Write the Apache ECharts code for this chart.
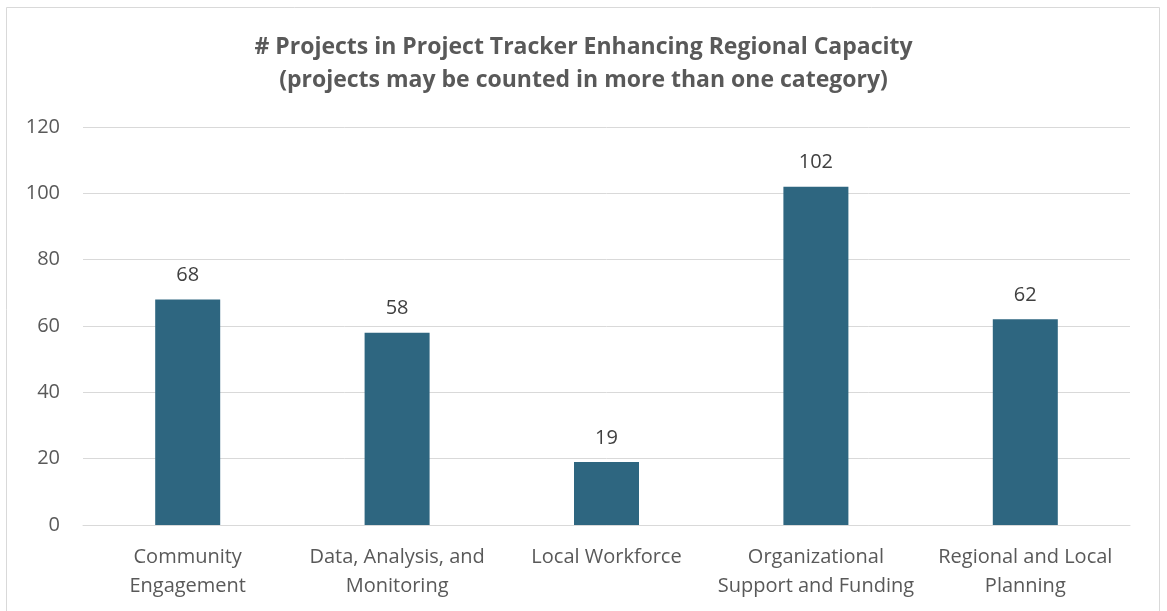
<!DOCTYPE html>
<html>
<head>
<meta charset="utf-8">
<script src="https://cdn.jsdelivr.net/npm/echarts@6/dist/echarts.min.js"></script>
<style>
    html, body { margin: 0; padding: 0; background: #fff; }
    #chart { width: 1167px; height: 611px; }
</style>
</head>
<body>
<div id="chart"></div>
<script>
    // categories and values
    var categories = ['Community\nEngagement', 'Data, Analysis, and\nMonitoring', 'Local Workforce',
        'Organizational\nSupport and Funding', 'Regional and Local\nPlanning'];
    var projectCounts = [68, 58, 19, 102, 62];
    var yTicks = [0, 20, 40, 60, 80, 100, 120];

    var chart = echarts.init(document.getElementById('chart'));
    var fontFamily = '"Open Sans", "Noto Sans", sans-serif';

    var option = {
        animation: false,
        backgroundColor: '#fff',
        graphic: [{
            type: 'rect',
            shape: { x: 6.5, y: 7.5, width: 1153, height: 620 },
            style: { fill: 'none', stroke: '#d9d9d9', lineWidth: 1 }
        }],
        title: {
            text: '# Projects in Project Tracker Enhancing Regional Capacity\n(projects may be counted in more than one category)',
            left: 'center',
            top: 26,
            textStyle: {
                fontFamily: fontFamily,
                fontSize: 23,
                fontWeight: 'bold',
                color: '#595959',
                lineHeight: 33
            }
        },
        grid: {
            left: 83,
            right: 37,
            top: 127,
            bottom: 86,
            containLabel: false
        },
        xAxis: {
            type: 'category',
            data: categories,
            axisLine: { lineStyle: { color: '#d9d9d9', width: 1 } },
            axisTick: { show: false },
            axisLabel: {
                interval: 0,
                margin: 18,
                fontFamily: fontFamily,
                fontSize: 20,
                color: '#595959',
                lineHeight: 29
            }
        },
        yAxis: {
            type: 'value',
            min: yTicks[0],
            max: yTicks[yTicks.length - 1],
            interval: 20,
            axisLine: { show: false },
            axisTick: { show: false },
            splitLine: { lineStyle: { color: '#d9d9d9', width: 1 } },
            axisLabel: {
                margin: 23,
                fontFamily: fontFamily,
                fontSize: 20,
                color: '#595959'
            }
        },
        series: [{
            type: 'bar',
            data: projectCounts,
            barWidth: 65,
            itemStyle: { color: '#2e6680' },
            label: {
                show: true,
                position: 'top',
                distance: 14,
                fontFamily: fontFamily,
                fontSize: 20,
                color: '#404040'
            }
        }]
    };

    chart.setOption(option);
</script>
</body>
</html>
